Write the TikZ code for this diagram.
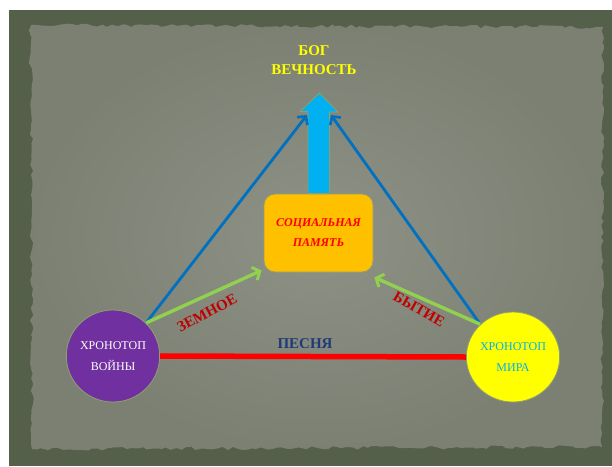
\documentclass[tikz,border=0pt]{standalone}
\usepackage{fontspec}
\setmainfont{Liberation Serif}
\usetikzlibrary{shapes.geometric,arrows.meta,decorations.pathmorphing}
\definecolor{framec}{HTML}{55604B}
\definecolor{paperin}{HTML}{8E9185}
\definecolor{paperout}{HTML}{7C8073}
\definecolor{warc}{HTML}{7030A0}
\definecolor{peacec}{HTML}{FFFF00}
\definecolor{memc}{HTML}{FFC000}
\definecolor{skyc}{HTML}{00B0F0}
\definecolor{bluec}{HTML}{0070C0}
\definecolor{greenc}{HTML}{92D050}
\definecolor{redc}{HTML}{FF0000}
\definecolor{darkred}{HTML}{C00000}
\definecolor{navyc}{HTML}{1F3A78}
\definecolor{rimc}{HTML}{8FA070}
\tikzset{
  chrono/.style={ellipse, draw=rimc, line width=0.8pt, inner sep=0pt,
    align=center, font=\fontsize{12}{21}\selectfont},
  memnode/.style={rectangle, rounded corners=11pt, fill=memc, draw=rimc, line width=0.8pt,
    minimum width=109pt, minimum height=78pt, align=center,
    font=\bfseries\itshape\fontsize{12}{20}\selectfont, text=redc},
  bluearrow/.style={draw=bluec, line width=2.8pt, -{Straight Barb[length=6pt,width=13pt,line width=2.6pt]}},
  greenarrow/.style={draw=greenc, line width=3.4pt, -{Straight Barb[length=6pt,width=14pt,line width=3pt]}},
  edgelabel/.style={font=\bfseries\fontsize{15}{16}\selectfont, text=darkred},
}
\begin{document}
\begin{tikzpicture}[x=1pt,y=-1pt]
\useasboundingbox (0,0) rectangle (612,466);
\fill[white] (0,0) rectangle (612,466);
\fill[framec] (9,10) rectangle (612,466);
\pgfmathsetseed{11}
\shade[inner color=paperin, outer color=paperout, decorate,
  decoration={random steps,segment length=5pt,amplitude=1.8pt}]
  (31,25) -- (603,27) -- (602,447) -- (32,449) -- cycle;

% title
\node[align=center, text=peacec, font=\bfseries\fontsize{15}{19}\selectfont] (god) at (314,60) {БОГ\\ВЕЧНОСТЬ};

% memory box
\node[memnode] (mem) at (318.5,233) {СОЦИАЛЬНАЯ\\ПАМЯТЬ};

% big arrow
\fill[skyc, draw=rimc, line width=0.8pt]
  ([xshift=-10.5pt]mem.north) -- ++(0,-82) -- ++(-8,0) -- (319.5,93) -- (338,112)
  -- ([xshift=11pt]mem.north |- 0,112) -- ([xshift=11pt]mem.north) -- cycle;

% chronotopes
\node[chrono, fill=warc, text=white, minimum width=86pt, minimum height=92pt] (war) at (113,356) {ХРОНОТОП\\ВОЙНЫ};
\node[chrono, fill=peacec, text=skyc, minimum width=92pt, minimum height=90pt] (peace) at (513,357) {ХРОНОТОП\\МИРА};

\coordinate (tipL) at (307,115);
\coordinate (tipR) at (331,115);

% connectors
\draw[bluearrow] (war.45) -- (tipL);
\draw[bluearrow] (peace.135) -- (tipR);
\draw[greenarrow] (war.45) -- ([xshift=-2pt,yshift=2pt]mem.south west);
\draw[greenarrow] (peace.135) -- ([xshift=1pt,yshift=-5pt]mem.south east);
\draw[draw=redc, line width=5.5pt] (war.east) -- (peace.west);

% labels
\node[font=\bfseries\fontsize{15}{16}\selectfont, text=navyc] (song) at (305,344) {ПЕСНЯ};
\node[edgelabel, rotate=28] (earth) at (207,313) {ЗЕМНОЕ};
\node[edgelabel, rotate=-30] (being) at (419,309) {БЫТИЕ};
\end{tikzpicture}
\end{document}
